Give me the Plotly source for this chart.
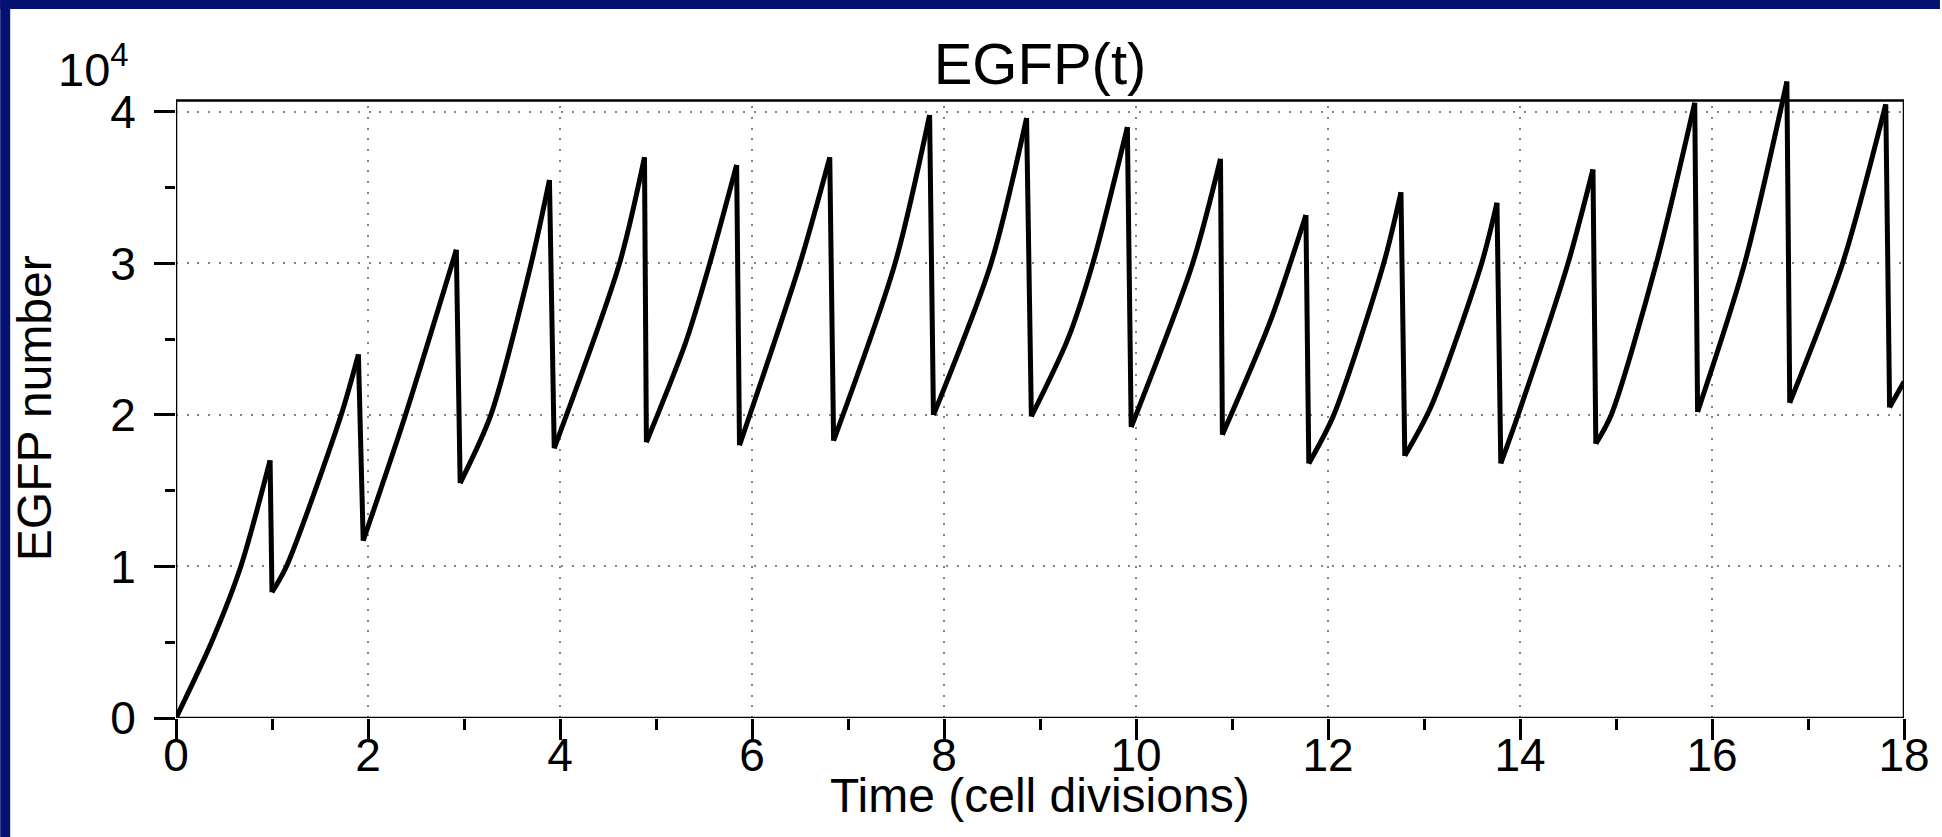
import plotly.graph_objects as go

# ---- data (time in cell divisions, EGFP molecule count) ----
time_div = [0.00, 0.37, 0.675, 0.98, 1.00, 1.15, 1.72, 1.90, 1.95, 2.38, 2.92, 2.96,
            3.28, 3.70, 3.89, 3.94, 4.62, 4.88, 4.90, 5.31, 5.56, 5.84, 5.87, 6.50,
            6.81, 6.85, 7.49, 7.85, 7.89, 8.49, 8.86, 8.91, 9.29, 9.55, 9.91, 9.95,
            10.59, 10.88, 10.90, 11.40, 11.77, 11.80, 12.06, 12.58, 12.76, 12.80, 13.07,
            13.60, 13.76, 13.80, 13.98, 14.50, 14.76, 14.79, 14.95, 15.42, 15.82, 15.85,
            16.34, 16.78, 16.81, 17.36, 17.81, 17.85, 18.00]
egfp = [0, 5000, 10000, 17000, 8300, 10000, 20000, 24000, 11700, 19800, 30900, 15500,
        20000, 30000, 35500, 17800, 30000, 37000, 18200, 24800, 30000, 36500, 18000, 30000,
        37000, 18300, 30000, 39800, 20000, 30000, 39600, 19900, 25000, 30000, 39000, 19200,
        30000, 36900, 18700, 26200, 33200, 16800, 20000, 30000, 34700, 17300, 20500,
        30000, 34000, 16800, 20000, 30000, 36200, 18100, 20000, 30000, 40600, 20200,
        30000, 42000, 20800, 30000, 40500, 20500, 22200]

x_ticks = [0, 2, 4, 6, 8, 10, 12, 14, 16, 18]
y_ticks = [0, 10000, 20000, 30000, 40000]
y_tick_text = ["0", "1", "2", "3", "4"]

title_text = "EGFP(t)"
x_title = "Time (cell divisions)"
y_title = "EGFP number"
exponent_text = "10<sup>4</sup>"

# ---- layout geometry ----
W, H = 1942, 837
ML, MR, MT, MB = 176, 36, 74, 119
PW, PH = W - ML - MR, H - MT - MB
Y_TOP = 42500      # plotting range top (lets peaks rise above the frame)
FRAME_TOP = 40750  # top edge of the drawn box
NAVY = "#031171"
FONT = "Liberation Sans, Arial, Helvetica, sans-serif"
LINE_W = 5


def px_x(px):
    return (px - ML) / PW


def px_y(py):
    return (H - MB - py) / PH


# split the sawtooth into smooth growth phases and sharp division drops
rise_x, rise_y, drop_x, drop_y = [], [], [], []
seg_x, seg_y = [time_div[0]], [egfp[0]]
for i in range(1, len(time_div)):
    if egfp[i] < egfp[i - 1]:
        rise_x += seg_x + [None]
        rise_y += seg_y + [None]
        drop_x += [time_div[i - 1], time_div[i], None]
        drop_y += [egfp[i - 1], egfp[i], None]
        seg_x, seg_y = [time_div[i]], [egfp[i]]
    else:
        seg_x.append(time_div[i])
        seg_y.append(egfp[i])
rise_x += seg_x
rise_y += seg_y

fig = go.Figure()
fig.add_trace(go.Scatter(
    x=rise_x, y=rise_y, mode="lines", connectgaps=False,
    line=dict(color="black", width=LINE_W, shape="spline", smoothing=0.8),
    hoverinfo="skip", showlegend=False,
))
fig.add_trace(go.Scatter(
    x=drop_x, y=drop_y, mode="lines", connectgaps=False,
    line=dict(color="black", width=LINE_W),
    hoverinfo="skip", showlegend=False,
))

axis_common = dict(
    showline=False, zeroline=False, showgrid=True,
    gridcolor="#858585", griddash="2px,8.7px", gridwidth=2,
    ticks="outside", ticklen=21, tickwidth=2.5, tickcolor="black",
    tickfont=dict(family=FONT, size=46, color="black"),
)

fig.update_xaxes(
    range=[0, 18], tickvals=x_ticks, ticklabelstandoff=-24,
    minor=dict(dtick=1, ticks="outside", ticklen=11, tickwidth=2.5,
               tickcolor="black", showgrid=False),
    **axis_common,
)
fig.update_yaxes(
    range=[0, Y_TOP], tickvals=y_ticks, ticktext=y_tick_text, ticklabelstandoff=9,
    minor=dict(dtick=5000, ticks="outside", ticklen=10, tickwidth=2.5,
               tickcolor="black", showgrid=False),
    **axis_common,
)

shapes = [
    # navy slide border strips (top and left)
    dict(type="rect", xref="paper", yref="paper", layer="above",
         x0=px_x(0), x1=px_x(W), y0=px_y(9), y1=px_y(0),
         fillcolor=NAVY, line=dict(width=0)),
    dict(type="rect", xref="paper", yref="paper", layer="above",
         x0=px_x(0), x1=px_x(10), y0=px_y(H), y1=px_y(0),
         fillcolor=NAVY, line=dict(width=0)),
    # hide grid above the box
    dict(type="rect", xref="x", yref="y", layer="between",
         x0=-0.5, x1=18.5, y0=FRAME_TOP, y1=Y_TOP + 2000,
         fillcolor="white", line=dict(width=0)),
    # axes box
    dict(type="rect", xref="x", yref="y", layer="above",
         x0=0, x1=18, y0=0, y1=FRAME_TOP,
         fillcolor="rgba(0,0,0,0)", line=dict(color="black", width=2.5)),
]

annotations = [
    dict(text=y_title, textangle=-90, xref="paper", yref="paper",
         x=px_x(35), y=px_y(408), xanchor="center", yanchor="middle",
         showarrow=False, font=dict(family=FONT, size=48, color="black")),
    dict(text=x_title, xref="paper", yref="paper",
         x=px_x(1041), y=px_y(795), xanchor="center", yanchor="middle",
         showarrow=False, font=dict(family=FONT, size=48, color="black")),
    dict(text=exponent_text, xref="paper", yref="paper",
         x=px_x(131), y=px_y(66), xanchor="right", yanchor="middle",
         showarrow=False, font=dict(family=FONT, size=47, color="black")),
]

fig.update_layout(
    width=W, height=H,
    margin=dict(l=ML, r=MR, t=MT, b=MB, pad=0),
    paper_bgcolor="white", plot_bgcolor="white",
    title=dict(text=title_text, x=px_x(1041), xref="paper", xanchor="center",
               y=1 - 64 / H, yref="container", yanchor="middle",
               font=dict(family=FONT, size=58, color="black")),
    shapes=shapes, annotations=annotations,
    showlegend=False,
)

fig.write_html(
    "out.html",
    config={"displayModeBar": False},
    post_script="document.body.style.margin='0';document.body.style.overflow='hidden';",
)
